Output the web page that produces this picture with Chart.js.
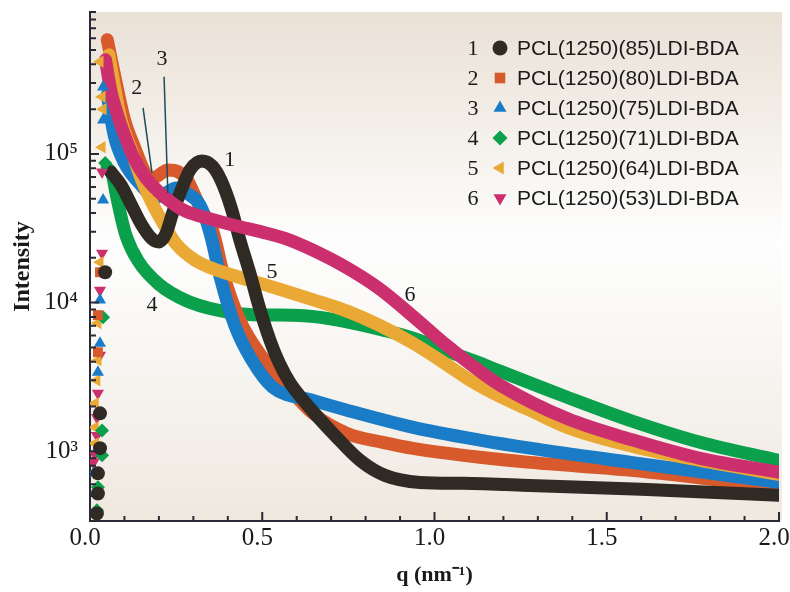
<!DOCTYPE html>
<html>
<head>
<meta charset="utf-8">
<script src="https://cdn.jsdelivr.net/npm/chart.js@4.4.0/dist/chart.umd.min.js"></script>
<style>html,body{margin:0;padding:0;background:#fff}</style>
</head>
<body>
<canvas id="c" width="790" height="592"></canvas>
<script>
// ---------------- DATA ----------------
const names = [
    "PCL(1250)(85)LDI-BDA", "PCL(1250)(80)LDI-BDA", "PCL(1250)(75)LDI-BDA",
    "PCL(1250)(71)LDI-BDA", "PCL(1250)(64)LDI-BDA", "PCL(1250)(53)LDI-BDA"
];

// main curves, q (nm^-1) and intensity
const q1 = [0.06, 0.09, 0.12, 0.15, 0.18, 0.2, 0.22, 0.24, 0.265, 0.29, 0.325, 0.355, 0.38, 0.41, 0.435, 0.464, 0.49, 0.522, 0.55, 0.581, 0.639, 0.711, 0.784, 0.856, 0.958, 1.083, 1.277, 1.6, 2.0];
const i1 = [75700, 61800, 45400, 33300, 26800, 25600, 28900, 40100, 57300, 78000, 89700, 83000, 66800, 43300, 26400, 15800, 9550, 5620, 3890, 2880, 1950, 1280, 869, 689, 618, 609, 590, 555, 506];

const q2 = [0.05, 0.07, 0.1, 0.13, 0.16, 0.18, 0.2, 0.226, 0.255, 0.282, 0.319, 0.357, 0.389, 0.435, 0.5, 0.552, 0.647, 0.746, 0.85, 0.938, 1.132, 1.277, 1.57, 2.0];
const i2 = [586000, 350000, 170000, 110000, 75000, 68000, 72000, 78000, 76000, 67000, 44000, 30000, 15000, 7600, 4300, 3100, 1800, 1320, 1150, 1047, 912, 843, 745, 573];

const q3 = [0.05, 0.07, 0.1, 0.15, 0.19, 0.22, 0.25, 0.28, 0.32, 0.35, 0.38, 0.42, 0.47, 0.53, 0.647, 0.746, 0.938, 1.132, 1.277, 1.57, 2.0];
const i3 = [250000, 134000, 87000, 61000, 51000, 54600, 59000, 54600, 45000, 28500, 14200, 7050, 4100, 2700, 2200, 1890, 1450, 1190, 1050, 843, 618];

const q4 = [0.05, 0.065, 0.075, 0.09, 0.105, 0.14, 0.2, 0.28, 0.37, 0.47, 0.552, 0.65, 0.749, 0.851, 0.938, 1.045, 1.132, 1.19, 1.385, 1.576, 1.771, 2.0];
const i4 = [80500, 72000, 55000, 38000, 28000, 19000, 13300, 10300, 8900, 8300, 8250, 8050, 7390, 6530, 5770, 4650, 3920, 3460, 2310, 1590, 1150, 869];

const q5 = [0.055, 0.07, 0.09, 0.12, 0.15, 0.18, 0.22, 0.25, 0.305, 0.421, 0.522, 0.639, 0.746, 0.842, 0.938, 1.016, 1.103, 1.19, 1.277, 1.385, 1.576, 1.771, 2.0];
const i5 = [464000, 292000, 169000, 106000, 66800, 46800, 31800, 24800, 19300, 15100, 12900, 10600, 8770, 7000, 5330, 4100, 3010, 2340, 1890, 1450, 1080, 869, 700];

const q6 = [0.045, 0.06, 0.08, 0.1, 0.13, 0.16, 0.2, 0.25, 0.28, 0.35, 0.42, 0.5, 0.566, 0.647, 0.746, 0.842, 0.938, 1.036, 1.132, 1.19, 1.385, 1.576, 1.771, 2.0];
const i6 = [430000, 270000, 183000, 134000, 91000, 70000, 55400, 44700, 41000, 36500, 33000, 29800, 27000, 22500, 17100, 12300, 8070, 5140, 3450, 2790, 1660, 1190, 897, 723];

// scattered points next to the beam stop
const b1q = [0.044, 0.029, 0.029, 0.023, 0.023, 0.02];
const b1i = [16000, 1800, 1050, 711, 521, 382];
const b2q = [0.029, 0.023, 0.023];
const b2i = [16000, 8240, 4640];
const b3q = [0.038, 0.038, 0.038, 0.029, 0.029, 0.023, 0.01];
const b3i = [282000, 169000, 49000, 10400, 5340, 3400, 711];
const b4q = [0.044, 0.038, 0.035, 0.035, 0.023, 0.02];
const b4i = [87000, 7980, 1380, 940, 573, 401];
const b5q = [0.029, 0.035, 0.038, 0.035, 0.029, 0.023, 0.023, 0.02, 0.015, 0.015, 0.015];
const b5i = [417000, 242000, 200000, 111000, 18700, 7280, 4100, 3000, 2100, 1450, 1130];
const b6q = [0.035, 0.035, 0.029, 0.029, 0.023, 0.02, 0.02, 0.015, 0.01];
const b6i = [75700, 21500, 12100, 4430, 2460, 1690, 1280, 940, 843];

// axis ticks
const xTicks = [0, 0.5, 1.0, 1.5, 2.0];
const yTicks = [1e3, 1e4, 1e5];

// curve labels (q, intensity) and leader lines
const tagText = ["1", "2", "3", "4", "5", "6"];
const tagQ = [0.406, 0.136, 0.209, 0.18, 0.528, 0.929];
const tagI = [91000, 278000, 430000, 9620, 16000, 11200];
const leaderQ = [[0.154, 0.18], [0.215, 0.226]];
const leaderI = [[204000, 74500], [330000, 54600]];

// ---------------- STYLE ----------------
const colors = ["#2f2b24", "#d85a2c", "#1a7cc6", "#0ba04c", "#eaa934", "#cc2f6e"];
const shapes = ["circle", "rect", "triangle", "rectRot", "triangle", "triangle"];
const turns = [0, 0, 0, 0, -90, 180];
const layers = [1, 4, 3, 5, 2, 0];
const SERIF = "'Liberation Serif', 'Times New Roman', serif";
const SANS = "'Liberation Sans', Arial, sans-serif";

const mainQ = [q1, q2, q3, q4, q5, q6];
const mainI = [i1, i2, i3, i4, i5, i6];
const beamQ = [b1q, b2q, b3q, b4q, b5q, b6q];
const beamI = [b1i, b2i, b3i, b4i, b5i, b6i];

const datasets = [];
mainQ.forEach((qs, k) => {
    datasets.push({
        type: "line",
        label: names[k],
        data: qs.map((q, j) => ({ x: q, y: mainI[k][j] })),
        borderColor: colors[k],
        borderWidth: 13,
        borderCapStyle: "round",
        borderJoinStyle: "round",
        pointRadius: 0,
        cubicInterpolationMode: "monotone",
        fill: false,
        order: layers[k] + 1
    });
});
beamQ.forEach((qs, k) => {
    datasets.push({
        type: "scatter",
        label: names[k] + " bs",
        data: qs.map((q, j) => ({ x: q, y: beamI[k][j] })),
        backgroundColor: colors[k],
        borderWidth: 0,
        pointStyle: shapes[k],
        rotation: turns[k],
        pointRadius: 7,
        showLine: false,
        order: 0
    });
});

const sup = { 3: "\u00B3", 4: "\u2074", 5: "\u2075" };

// ---------------- PLUGINS ----------------
const backdrop = {
    id: "backdrop",
    beforeDraw(chart) {
        const { ctx, chartArea: a } = chart;
        ctx.save();
        ctx.fillStyle = "#fff";
        ctx.fillRect(0, 0, chart.width, chart.height);
        const g = ctx.createLinearGradient(0, a.top, 0, a.bottom);
        g.addColorStop(0, "#eae1d6");
        g.addColorStop(0.2, "#f2ede6");
        g.addColorStop(0.45, "#fefefe");
        g.addColorStop(0.7, "#f7f5f1");
        g.addColorStop(1, "#efe8df");
        ctx.fillStyle = g;
        ctx.fillRect(a.left, a.top, a.right - a.left + 3, a.bottom - a.top);
        ctx.restore();
    }
};

const inTicks = {
    id: "inTicks",
    afterDraw(chart) {
        const { ctx, chartArea: a } = chart;
        const xs = chart.scales.x, ys = chart.scales.y;
        ctx.save();
        ctx.strokeStyle = "#2a2a36";
        ctx.lineWidth = 2;
        ctx.beginPath();
        for (let n = 0; n <= 20; n++) {
            const px = xs.getPixelForValue(n / 10);
            const len = n % 5 === 0 ? 9 : 5;
            ctx.moveTo(px, a.bottom);
            ctx.lineTo(px, a.bottom - len);
        }
        for (let e = 2; e <= 5; e++) {
            for (let m = 1; m <= 9; m++) {
                const v = m * Math.pow(10, e);
                if (v < ys.min || v > ys.max) continue;
                const py = ys.getPixelForValue(v);
                const len = m === 1 ? 9 : 6;
                ctx.moveTo(a.left, py);
                ctx.lineTo(a.left + len, py);
            }
        }
        ctx.stroke();
        ctx.restore();
    }
};

const tags = {
    id: "tags",
    afterDraw(chart) {
        const { ctx } = chart;
        const xs = chart.scales.x, ys = chart.scales.y;
        ctx.save();
        ctx.strokeStyle = "#1f4b5c";
        ctx.lineWidth = 1.5;
        leaderQ.forEach((qq, k) => {
            ctx.beginPath();
            ctx.moveTo(xs.getPixelForValue(qq[0]), ys.getPixelForValue(leaderI[k][0]));
            ctx.lineTo(xs.getPixelForValue(qq[1]), ys.getPixelForValue(leaderI[k][1]));
            ctx.stroke();
        });
        ctx.fillStyle = "#1a1a1a";
        ctx.font = "22px " + SERIF;
        ctx.textAlign = "center";
        ctx.textBaseline = "middle";
        tagText.forEach((t, k) => {
            ctx.fillText(t, xs.getPixelForValue(tagQ[k]), ys.getPixelForValue(tagI[k]));
        });

        // legend
        const x0 = 473, y0 = 48, dy = 30;
        names.forEach((nm, k) => {
            const y = y0 + k * dy;
            ctx.fillStyle = "#1a1a1a";
            ctx.font = "22px " + SERIF;
            ctx.textAlign = "center";
            ctx.fillText(String(k + 1), x0, y + 1);
            ctx.fillStyle = colors[k];
            Chart.helpers.drawPoint(ctx, {
                pointStyle: shapes[k], rotation: turns[k], radius: 7.5, borderWidth: 0
            }, x0 + 27, y);
            ctx.fillStyle = "#1a1a1a";
            ctx.font = "21px " + SANS;
            ctx.textAlign = "left";
            ctx.fillText(nm, x0 + 44, y + 1);
        });
        ctx.restore();
    }
};

// ---------------- CHART ----------------
new Chart(document.getElementById("c"), {
    data: { datasets },
    options: {
        responsive: false,
        animation: false,
        layout: { padding: { top: 12, right: 11, left: 0, bottom: 0 } },
        plugins: { legend: { display: false }, tooltip: { enabled: false } },
        scales: {
            x: {
                type: "linear",
                min: 0,
                max: 2,
                afterFit: s => { s.height = 71; s.paddingLeft = 0; s.paddingRight = 0; },
                afterBuildTicks: s => { s.ticks = xTicks.map(v => ({ value: v })); },
                grid: { display: false, drawTicks: false },
                border: { display: true, color: "#2a2a36", width: 2 },
                ticks: {
                    padding: 2,
                    labelOffset: -5,
                    color: "#1a1a1a",
                    font: { family: SERIF, size: 25 },
                    callback: v => Number(v).toFixed(1)
                },
                title: {
                    display: true,
                    text: "q (nm\u207B\u00B9)",
                    color: "#1a1a1a",
                    font: { family: SERIF, size: 22, weight: "bold" },
                    padding: { top: 0, bottom: 3 }
                }
            },
            y: {
                type: "logarithmic",
                min: 340,
                max: 900000,
                afterFit: s => { s.width = 90; s.paddingTop = 0; s.paddingBottom = 0; },
                afterBuildTicks: s => { s.ticks = yTicks.map(v => ({ value: v })); },
                grid: { display: false, drawTicks: false },
                border: { display: true, color: "#2a2a36", width: 2 },
                ticks: {
                    padding: 12,
                    color: "#1a1a1a",
                    font: { family: SERIF, size: 25 },
                    callback: v => "10" + sup[Math.round(Math.log10(v))]
                },
                title: {
                    display: true,
                    text: "Intensity",
                    color: "#1a1a1a",
                    font: { family: SERIF, size: 24, weight: "bold" },
                    padding: { top: 8, bottom: 0 }
                }
            }
        }
    },
    plugins: [backdrop, inTicks, tags]
});
</script>
</body>
</html>
